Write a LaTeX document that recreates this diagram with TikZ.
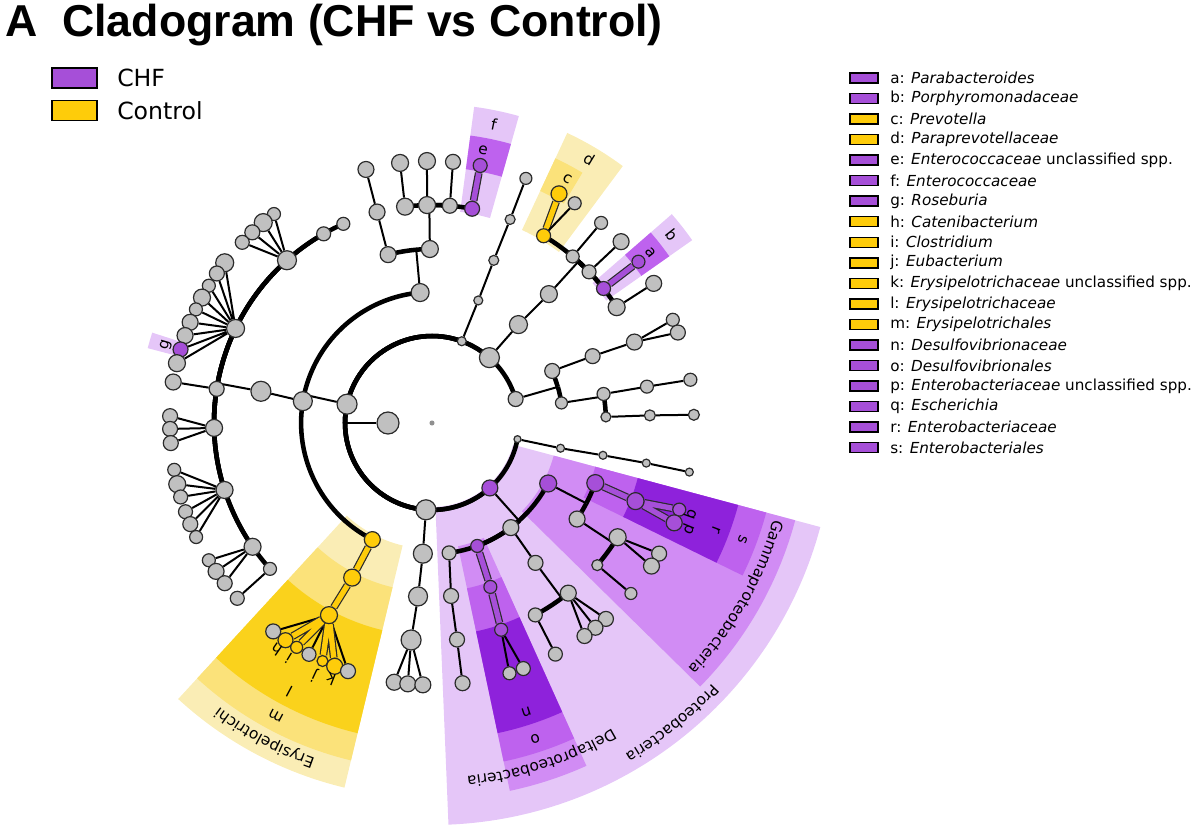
\documentclass[tikz,border=0pt]{standalone}
\usepackage{fontspec}
\setmainfont{DejaVu Sans}
\newfontfamily\titlefont{Liberation Sans}
\usetikzlibrary{calc,positioning,decorations.text}
\definecolor{cgChf}{HTML}{A64FD8}
\definecolor{cgCtl}{HTML}{FECC0A}
\definecolor{cgGray}{HTML}{C0C0C0}
\definecolor{cgInk}{HTML}{2B2B2B}
\definecolor{cgPurA}{HTML}{E5C6F8}
\definecolor{cgPurB}{HTML}{D18CF4}
\definecolor{cgPurC}{HTML}{BE62EE}
\definecolor{cgPurD}{HTML}{8E22DB}
\definecolor{cgYelA}{HTML}{FAEDB5}
\definecolor{cgYelB}{HTML}{FBE27A}
\definecolor{cgYelC}{HTML}{FAD21C}
\newcommand\cglbl{\fontsize{11.5}{13}\selectfont}
% band: colour, from angle, to angle (clockwise from east), inner radius, outer radius
\newcommand\cgband[5]{\fill[#1] (-#2:#4) -- (-#2:#5) arc[start angle=-#2, end angle=-#3, radius=#5] -- (-#3:#4) arc[start angle=-#3, end angle=-#2, radius=#4] -- cycle;}
\pgfdeclarelayer{bands}
\pgfdeclarelayer{lines}
\pgfsetlayers{bands,lines,main}
\tikzset{
  cgnode/.style={circle,draw=cgInk,line width=0.9pt,fill=cgGray,inner sep=0pt,minimum size=#1*0.75pt},
  cgchf/.style={cgnode=#1,fill=cgChf},
  cgctl/.style={cgnode=#1,fill=cgCtl},
  cgroot/.style={circle,fill=cgGray!75!black,inner sep=0pt,minimum size=3.8pt},
  cgline/.style={draw=black,line width=1.5pt},
  cgrad/.style={draw=black,line width=1.5pt,to path={let \p1=(\tikztostart),\p2=(\tikztotarget),\n1={atan2(\y1,\x1)},\n3={veclen(\x2,\y2)} in -- (\n1:\n3)}},
  cgring/.style={draw=black,line width=3.4pt,to path={let \p1=(\tikztostart),\p2=(\tikztotarget),\n1={atan2(\y1,\x1)},\n2={atan2(\y2,\x2)},\n3={veclen(\x2,\y2)},\n4={mod((\n2)-(\n1)+540,360)-180} in (\n1:\n3) arc[start angle=\n1,delta angle=\n4,radius=\n3]}},
  cgbarP/.style={draw=cgInk,line width=0.9pt,double=cgChf,double distance=4pt},
  cgbarY/.style={draw=cgInk,line width=0.9pt,double=cgCtl,double distance=4pt},
  cgletter/.style={font=\cglbl,inner sep=0pt},
  cgkey/.style={rectangle,draw=black,line width=1.4pt,inner sep=0pt,outer sep=0pt,minimum width=33.75pt,minimum height=15pt},
  cgkeytxt/.style={font=\fontsize{17.7}{20}\selectfont,inner sep=0pt},
  cgmini/.style={rectangle,draw=black,line width=1.1pt,inner sep=0pt,outer sep=0pt,minimum width=21pt,minimum height=7.5pt},
  cgentry/.style={font=\fontsize{11.4}{13}\selectfont,inner sep=0pt}
}
\begin{document}
\begin{tikzpicture}[x=0.75pt,y=0.75pt]
\useasboundingbox (-432,-416) rectangle (768,423);

% ---- TITLE ----
\node[anchor=base west,inner sep=0pt,font={\titlefont\bfseries\fontsize{33.5}{36}\selectfont}] (title) at (-427,386) {A\ \ Cladogram (CHF vs Control)};

% ---- ROOT, KINGDOM, PHYLA ----
\node[cgroot] (root) at (0,0) {};
\node[cgnode=22] (kBac) at (-180:44) {};
\node[cgnode=20] (pFirm) at (-192.5:87) {};
\node[cgnode=20] (pBact) at (-311.3:87) {};
\node[cgnode=9] (pTop) at (-290:87) {};
\node[cgnode=15] (pRight) at (-344:87) {};
\node[cgnode=7] (pLow) at (-10.7:87) {};
\node[cgchf=16] (pProt) at (-48.3:87) {};
\node[cgnode=20] (pActi) at (-94:87) {};

% ---- FIRMICUTES ----
\node[cgnode=18] (cBaci) at (-264.8:131) {};
\node[cgnode=19] (cClos) at (-189.6:131) {};
\node[cgctl=16] (cErys) at (-117.1:131) {};
% Bacilli
\node[cgnode=16] (oBac1) at (-255.4:174) {};
\node[cgnode=17] (oBac2) at (-269.3:174) {};
\node[cgnode=16] (fBac1) at (-255.4:218) {};
\node[cgnode=16] (gBac1) at (-255.4:262) {};
\node[cgnode=17] (fBac2) at (-262.9:218) {};
\node[cgnode=17] (fBac3) at (-268.7:218) {};
\node[cgnode=15] (fBac4) at (-274.7:218) {};
\node[cgchf=15] (ff) at (-280.6:218) {};
\node[cgnode=17] (gBac2) at (-263:262) {};
\node[cgnode=17] (gBac3) at (-268.9:262) {};
\node[cgnode=15] (gBac4) at (-274.6:262) {};
\node[cgchf=14] (ge) at (-280.6:262) {};
% Clostridia
\node[cgnode=20] (oClos) at (-190.5:174) {};
\node[cgnode=13] (fC1) at (-138:218) {};
\node[cgnode=14] (gC1) at (-138:262) {};
\node[cgnode=17] (fC2) at (-145.4:218) {};
\node[cgnode=13] (gC2a) at (-148.4:262) {};
\node[cgnode=16] (gC2b) at (-145.5:262) {};
\node[cgnode=15] (gC2c) at (-142.3:262) {};
\node[cgnode=17] (fC3) at (-162.1:218) {};
\node[cgnode=13] (gC3a) at (-169.7:262) {};
\node[cgnode=17] (gC3b) at (-166.5:262) {};
\node[cgnode=14] (gC3c) at (-163.6:262) {};
\node[cgnode=14] (gC3d) at (-160.2:262) {};
\node[cgnode=15] (gC3e) at (-157.3:262) {};
\node[cgnode=13] (gC3f) at (-154.2:262) {};
\node[cgnode=17] (fC4) at (-178.7:218) {};
\node[cgnode=15] (gC4a) at (-181.5:262) {};
\node[cgnode=15] (gC4b) at (-178.7:262) {};
\node[cgnode=15] (gC4c) at (-175.6:262) {};
\node[cgnode=15] (fC5) at (-189:218) {};
\node[cgnode=16] (gC5) at (-189:262) {};
\node[cgnode=18] (fC6) at (-205.7:218) {};
\node[cgnode=18] (gC6a) at (-217.7:262) {};
\node[cgnode=15] (gC6b) at (-214.8:262) {};
\node[cgnode=13] (gC6c) at (-211.6:262) {};
\node[cgnode=17] (gC6d) at (-208.6:262) {};
\node[cgnode=13] (gC6e) at (-205.7:262) {};
\node[cgnode=16] (gC6f) at (-202.6:262) {};
\node[cgnode=16] (gC6h) at (-199.5:262) {};
\node[cgchf=15] (gg) at (-196.3:262) {};
\node[cgnode=17] (gC6i) at (-193.2:262) {};
\node[cgnode=19] (fC7) at (-228.3:218) {};
\node[cgnode=13] (gC7a) at (-232.9:262) {};
\node[cgnode=18] (gC7b) at (-229.9:262) {};
\node[cgnode=15] (gC7c) at (-226.7:262) {};
\node[cgnode=14] (gC7d) at (-223.6:262) {};
\node[cgnode=14] (fC8) at (-240.2:218) {};
\node[cgnode=13] (fC9) at (-246:218) {};
% Erysipelotrichi
\node[cgctl=17] (om) at (-117.3:174) {};
\node[cgctl=17] (fl) at (-118.2:218) {};
\node[cgnode=15] (gE1) at (-127.3:262) {};
\node[cgctl=15] (gh) at (-124:262) {};
\node[cgctl=12] (gi) at (-121.1:262) {};
\node[cgnode=14] (gE2) at (-118:262) {};
\node[cgctl=11] (gj) at (-114.7:262) {};
\node[cgctl=16] (gk) at (-111.8:262) {};
\node[cgnode=15] (gE3) at (-108.7:262) {};

% ---- LOWER GREY PHYLUM ----
\node[cgnode=19] (cActi) at (-94:131) {};
\node[cgnode=19] (oActi) at (-94.6:174) {};
\node[cgnode=20] (fActi) at (-95.5:218) {};
\node[cgnode=16] (gAct1) at (-98.3:262) {};
\node[cgnode=16] (gAct2) at (-95.3:262) {};
\node[cgnode=16] (gAct3) at (-92:262) {};

% ---- PROTEOBACTERIA ----
\node[cgchf=17] (cGamm) at (-27.5:131) {};
\node[cgnode=16] (cPrA) at (-53:131) {};
\node[cgchf=13] (cDelt) at (-69.8:131) {};
\node[cgnode=14] (cPrB) at (-82.5:131) {};
\node[cgchf=17] (os) at (-20.2:174) {};
\node[cgnode=16] (oGam2) at (-33.5:174) {};
\node[cgchf=17] (fr) at (-21:218) {};
\node[cgchf=13] (gq) at (-19.3:262) {};
\node[cgchf=16] (gp) at (-22.4:262) {};
\node[cgnode=17] (fGam2) at (-31.6:218) {};
\node[cgnode=11] (fGam3) at (-40.7:218) {};
\node[cgnode=15] (gGam2a) at (-29.9:262) {};
\node[cgnode=16] (gGam2b) at (-33.1:262) {};
\node[cgnode=12] (gGam3) at (-40.6:262) {};
\node[cgnode=15] (oPrA) at (-53.5:174) {};
\node[cgnode=16] (fPrA1) at (-51.3:218) {};
\node[cgnode=14] (fPrA2) at (-61.7:218) {};
\node[cgnode=15] (gPrA1) at (-48.4:262) {};
\node[cgnode=15] (gPrA2) at (-51.4:262) {};
\node[cgnode=15] (gPrA3) at (-54.4:262) {};
\node[cgnode=14] (gPrA4) at (-61.9:262) {};
\node[cgchf=13] (oo) at (-70.4:174) {};
\node[cgchf=13] (fn) at (-71.5:218) {};
\node[cgnode=13] (gDel1) at (-72.8:262) {};
\node[cgnode=14] (gDel2) at (-69.6:262) {};
\node[cgnode=15] (oPrB) at (-83.7:174) {};
\node[cgnode=15] (fPrB) at (-83.4:218) {};
\node[cgnode=15] (gPrB) at (-83.3:262) {};

% ---- RIGHT GREY PHYLA ----
\node[cgnode=8] (cLow) at (-11.1:131) {};
\node[cgnode=8] (oLow) at (-10.7:174) {};
\node[cgnode=8] (fLow) at (-10.6:218) {};
\node[cgnode=8] (gLow) at (-10.8:262) {};
\node[cgnode=15] (cRt1) at (-336.6:131) {};
\node[cgnode=12] (cRt2) at (-351.2:131) {};
\node[cgnode=15] (oRt1) at (-337.4:174) {};
\node[cgnode=16] (fRt1) at (-338.2:218) {};
\node[cgnode=13] (gRt1a) at (-336.8:262) {};
\node[cgnode=15] (gRt1b) at (-339.8:262) {};
\node[cgnode=13] (oRt2) at (-350.4:174) {};
\node[cgnode=13] (fRt2) at (-350.4:218) {};
\node[cgnode=13] (gRt2) at (-350.5:262) {};
\node[cgnode=10] (oRt3) at (-358:174) {};
\node[cgnode=11] (fRt3) at (-358:218) {};
\node[cgnode=11] (gRt3) at (-358.2:262) {};

% ---- BACTEROIDETES ----
\node[cgnode=18] (cBact) at (-311.3:131) {};
\node[cgnode=17] (oBact) at (-312.2:174) {};
\node[cgctl=14] (fd) at (-300.8:218) {};
\node[cgnode=13] (fBa2) at (-310.2:218) {};
\node[cgnode=14] (fBa3) at (-316.1:218) {};
\node[cgchf=14] (fb) at (-321.9:218) {};
\node[cgnode=17] (fBa5) at (-327.9:218) {};
\node[cgctl=16] (gc) at (-299:262) {};
\node[cgnode=13] (gBa1) at (-303:262) {};
\node[cgnode=13] (gBa2) at (-310.2:262) {};
\node[cgnode=16] (gBa3) at (-316.2:262) {};
\node[cgchf=13] (ga) at (-322:262) {};
\node[cgnode=16] (gBa5) at (-327.8:262) {};

% ---- TOP GREY PHYLUM ----
\node[cgnode=9] (cTop) at (-290.7:131) {};
\node[cgnode=10] (oTop) at (-290.8:174) {};
\node[cgnode=10] (fTop) at (-291:218) {};
\node[cgnode=12] (gTop) at (-291:262) {};

% ---- HIGHLIGHT BANDS ----
\begin{pgfonlayer}{bands}
\cgband{cgYelA}{103.5}{132.6}{126}{375}
\cgband{cgYelB}{103.5}{132.6}{169}{347}
\cgband{cgYelC}{103.5}{132.6}{213}{319}
\cgband{cgYelA}{295}{306.6}{213}{320}
\cgband{cgYelB}{295}{301}{256}{292}
\cgband{cgPurA}{15}{87.65}{84}{402}
\cgband{cgPurB}{15}{44.5}{126}{376}
\cgband{cgPurB}{65.75}{78.05}{126}{376}
\cgband{cgPurC}{15}{26.15}{169}{346}
\cgband{cgPurC}{65.75}{78.05}{169}{346}
\cgband{cgPurD}{15}{26.15}{213}{317}
\cgband{cgPurD}{65.75}{78.05}{213}{317}
\cgband{cgPurA}{277.6}{285.8}{213}{319}
\cgband{cgPurC}{277.6}{285.8}{256}{290}
\cgband{cgPurA}{318.95}{324.9}{213}{318}
\cgband{cgPurC}{318.95}{324.9}{256}{290}
\cgband{cgPurA}{194.75}{197.9}{256}{294}
\end{pgfonlayer}

% ---- BRANCHES ----
\begin{pgfonlayer}{lines}
\draw[cgrad] (kBac) to (pFirm);
\path (kBac) edge[cgring] (pFirm) edge[cgring] (pBact) edge[cgring] (pTop) edge[cgring] (pRight) edge[cgring] (pLow) edge[cgring] (pProt) edge[cgring] (pActi);
\draw[cgrad] (pFirm) to (cClos);
\path (pFirm) edge[cgring] (cBaci) edge[cgring] (cClos) edge[cgring] (cErys);
\draw[cgrad] (cBaci) to (oBac1);
\path (cBaci) edge[cgring] (oBac1) edge[cgring] (oBac2);
\draw[cgline] (oBac1) -- (fBac1) -- (gBac1);
\draw[cgrad] (oBac2) to (fBac2);
\path (oBac2) edge[cgring] (fBac2) edge[cgring] (fBac3) edge[cgring] (fBac4) edge[cgring] (ff);
\draw[cgline] (fBac2) -- (gBac2) (fBac3) -- (gBac3) (fBac4) -- (gBac4);
\draw[cgbarP] (ff) -- (ge);
\draw[cgline] (cClos) -- (oClos);
\draw[cgrad] (oClos) to (fC1);
\path (oClos) edge[cgring] (fC1) edge[cgring] (fC2) edge[cgring] (fC3) edge[cgring] (fC4) edge[cgring] (fC5) edge[cgring] (fC6) edge[cgring] (fC7) edge[cgring] (fC8) edge[cgring] (fC9);
\draw[cgline] (fC1) -- (gC1) (fC2) -- (gC2a) (fC2) -- (gC2b) (fC2) -- (gC2c);
\draw[cgline] (fC3) -- (gC3a) (fC3) -- (gC3b) (fC3) -- (gC3c) (fC3) -- (gC3d) (fC3) -- (gC3e) (fC3) -- (gC3f);
\draw[cgline] (fC4) -- (gC4a) (fC4) -- (gC4b) (fC4) -- (gC4c) (fC5) -- (gC5);
\draw[cgline] (fC6) -- (gC6a) (fC6) -- (gC6b) (fC6) -- (gC6c) (fC6) -- (gC6d) (fC6) -- (gC6e) (fC6) -- (gC6f) (fC6) -- (gC6h) (fC6) -- (gg) (fC6) -- (gC6i);
\draw[cgline] (fC7) -- (gC7a) (fC7) -- (gC7b) (fC7) -- (gC7c) (fC7) -- (gC7d);
\draw[cgbarY] (cErys) -- (om) -- (fl);
\draw[cgline] (fl) -- (gE1) (fl) -- (gE2) (fl) -- (gE3);
\draw[cgbarY] (fl) -- (gh) (fl) -- (gi) (fl) -- (gj) (fl) -- (gk);
\draw[cgline] (pActi) -- (cActi) -- (oActi) -- (fActi);
\draw[cgline] (fActi) -- (gAct1) (fActi) -- (gAct2) (fActi) -- (gAct3);
\draw[cgrad] (pProt) to (cGamm);
\path (pProt) edge[cgring] (cGamm) edge[cgring] (cPrA) edge[cgring] (cDelt) edge[cgring] (cPrB);
\draw[cgrad] (cGamm) to (os);
\path (cGamm) edge[cgring] (os) edge[cgring] (oGam2);
\draw[cgbarP] (os) -- (fr) (fr) -- (gq) (fr) -- (gp);
\draw[cgrad] (oGam2) to (fGam2);
\path (oGam2) edge[cgring] (fGam2) edge[cgring] (fGam3);
\draw[cgline] (fGam2) -- (gGam2a) (fGam2) -- (gGam2b) (fGam3) -- (gGam3);
\draw[cgline] (cPrA) -- (oPrA);
\draw[cgrad] (oPrA) to (fPrA1);
\path (oPrA) edge[cgring] (fPrA1) edge[cgring] (fPrA2);
\draw[cgline] (fPrA1) -- (gPrA1) (fPrA1) -- (gPrA2) (fPrA1) -- (gPrA3) (fPrA2) -- (gPrA4);
\draw[cgbarP] (cDelt) -- (oo) -- (fn);
\draw[cgline] (fn) -- (gDel1) (fn) -- (gDel2);
\draw[cgline] (cPrB) -- (oPrB) -- (fPrB) -- (gPrB);
\draw[cgline] (pLow) -- (cLow) -- (oLow) -- (fLow) -- (gLow);
\draw[cgrad] (pRight) to (cRt1);
\path (pRight) edge[cgring] (cRt1) edge[cgring] (cRt2);
\draw[cgline] (cRt1) -- (oRt1) -- (fRt1);
\draw[cgline] (fRt1) -- (gRt1a) (fRt1) -- (gRt1b);
\draw[cgrad] (cRt2) to (oRt2);
\path (cRt2) edge[cgring] (oRt2) edge[cgring] (oRt3);
\draw[cgline] (oRt2) -- (fRt2) -- (gRt2);
\draw[cgline] (oRt3) -- (fRt3) -- (gRt3);
\draw[cgline] (pBact) -- (cBact) -- (oBact);
\draw[cgrad] (oBact) to (fd);
\path (oBact) edge[cgring] (fd) edge[cgring] (fBa2) edge[cgring] (fBa3) edge[cgring] (fb) edge[cgring] (fBa5);
\draw[cgbarY] (fd) -- (gc);
\draw[cgline] (fd) -- (gBa1) (fBa2) -- (gBa2) (fBa3) -- (gBa3) (fBa5) -- (gBa5);
\draw[cgbarP] (fb) -- (ga);
\draw[cgline] (pTop) -- (cTop) -- (oTop) -- (fTop) -- (gTop);
\end{pgfonlayer}

% ---- CLADE LETTERS ----
\node[cgletter,rotate=-52] (la) at (-322:277) {a};
\node[cgletter,rotate=-52] (lb) at (-321.9:305) {b};
\node[cgletter,rotate=-29] (lc) at (-299:279) {c};
\node[cgletter,rotate=-31] (ld) at (-300.8:307) {d};
\node[cgletter,rotate=-10.6] (le) at (-280.6:277) {e};
\node[cgletter,rotate=-11.7] (lf) at (-281.7:305) {f};
\node[cgletter,rotate=73.7] (lg) at (-196.3:277) {g};
\node[cgletter,rotate=145.5] (lh) at (-124.5:275) {h};
\node[cgletter,rotate=148.7] (li) at (-121.3:276) {i};
\node[cgletter,rotate=155] (lj) at (-115:278) {j};
\node[cgletter,rotate=158.5] (lk) at (-111.5:276) {k};
\node[cgletter,rotate=152] (ll) at (-118:304) {l};
\node[cgletter,rotate=152] (lm) at (-118:332) {m};
\node[cgletter,rotate=-161.9] (ln) at (-71.9:304) {n};
\node[cgletter,rotate=-161.9] (lo) at (-71.9:332) {o};
\node[cgletter,rotate=-112.4] (lp) at (-22.4:277) {p};
\node[cgletter,rotate=-109.3] (lq) at (-19.3:274) {q};
\node[cgletter,rotate=-110.6] (lr) at (-20.6:304) {r};
\node[cgletter,rotate=-110.6] (ls) at (-20.6:332) {s};

% ---- CLADE NAMES ----
\path[decorate,decoration={text along path,text align=center,text={|\cglbl|Erysipelotrichi}}] (-78:355) arc[start angle=-78,end angle=-158,radius=355];
\path[decorate,decoration={text along path,text align=center,text={|\cglbl|Gammaproteobacteria}}] (10.25:355) arc[start angle=10.25,end angle=-69.75,radius=355];
\path[decorate,decoration={text along path,text align=center,text={|\cglbl|Deltaproteobacteria}}] (-31.9:355) arc[start angle=-31.9,end angle=-111.9,radius=355];
\path[decorate,decoration={text along path,text align=center,text={|\cglbl|Proteobacteria}}] (-11.3:383) arc[start angle=-11.3,end angle=-91.3,radius=383];

% ---- LEGEND: GROUPS ----
\node[cgkey,fill=cgChf] (kChf) at (-357.5,345) {};
\node[cgkeytxt,right=15pt of kChf] (tChf) {CHF};
\node[cgkey,fill=cgCtl] (kCtl) at (-357.5,312.5) {};
\node[cgkeytxt,right=15pt of kCtl] (tCtl) {Control};

% ---- LEGEND: BIOMARKERS ----
\node[cgmini,fill=cgChf] (ka) at (432,345) {};
\node[cgentry,right=9pt of ka] (ta) {a: \textit{Parabacteroides}};
\node[cgmini,fill=cgChf,below=7.9pt of ka] (kb) {};
\node[cgentry,right=9pt of kb] (tb) {b: \textit{Porphyromonadaceae}};
\node[cgmini,fill=cgCtl,below=7.9pt of kb] (kc) {};
\node[cgentry,right=9pt of kc] (tc) {c: \textit{Prevotella}};
\node[cgmini,fill=cgCtl,below=7.9pt of kc] (kd) {};
\node[cgentry,right=9pt of kd] (td) {d: \textit{Paraprevotellaceae}};
\node[cgmini,fill=cgChf,below=7.9pt of kd] (ke) {};
\node[cgentry,right=9pt of ke] (te) {e: \textit{Enterococcaceae} unclassified spp.};
\node[cgmini,fill=cgChf,below=7.9pt of ke] (kf) {};
\node[cgentry,right=9pt of kf] (tf) {f: \textit{Enterococcaceae}};
\node[cgmini,fill=cgChf,below=7.9pt of kf] (kg) {};
\node[cgentry,right=9pt of kg] (tg) {g: \textit{Roseburia}};
\node[cgmini,fill=cgCtl,below=7.9pt of kg] (kh) {};
\node[cgentry,right=9pt of kh] (th) {h: \textit{Catenibacterium}};
\node[cgmini,fill=cgCtl,below=7.9pt of kh] (ki) {};
\node[cgentry,right=9pt of ki] (ti) {i: \textit{Clostridium}};
\node[cgmini,fill=cgCtl,below=7.9pt of ki] (kj) {};
\node[cgentry,right=9pt of kj] (tj) {j: \textit{Eubacterium}};
\node[cgmini,fill=cgCtl,below=7.9pt of kj] (kk) {};
\node[cgentry,right=9pt of kk] (tk) {k: \textit{Erysipelotrichaceae} unclassified spp.};
\node[cgmini,fill=cgCtl,below=7.9pt of kk] (kl) {};
\node[cgentry,right=9pt of kl] (tl) {l: \textit{Erysipelotrichaceae}};
\node[cgmini,fill=cgCtl,below=7.9pt of kl] (km) {};
\node[cgentry,right=9pt of km] (tm) {m: \textit{Erysipelotrichales}};
\node[cgmini,fill=cgChf,below=7.9pt of km] (kn) {};
\node[cgentry,right=9pt of kn] (tn) {n: \textit{Desulfovibrionaceae}};
\node[cgmini,fill=cgChf,below=7.9pt of kn] (ko) {};
\node[cgentry,right=9pt of ko] (to) {o: \textit{Desulfovibrionales}};
\node[cgmini,fill=cgChf,below=7.9pt of ko] (kp) {};
\node[cgentry,right=9pt of kp] (tp) {p: \textit{Enterobacteriaceae} unclassified spp.};
\node[cgmini,fill=cgChf,below=7.9pt of kp] (kq) {};
\node[cgentry,right=9pt of kq] (tq) {q: \textit{Escherichia}};
\node[cgmini,fill=cgChf,below=7.9pt of kq] (kr) {};
\node[cgentry,right=9pt of kr] (tr) {r: \textit{Enterobacteriaceae}};
\node[cgmini,fill=cgChf,below=7.9pt of kr] (ks) {};
\node[cgentry,right=9pt of ks] (ts) {s: \textit{Enterobacteriales}};

\end{tikzpicture}
\end{document}
